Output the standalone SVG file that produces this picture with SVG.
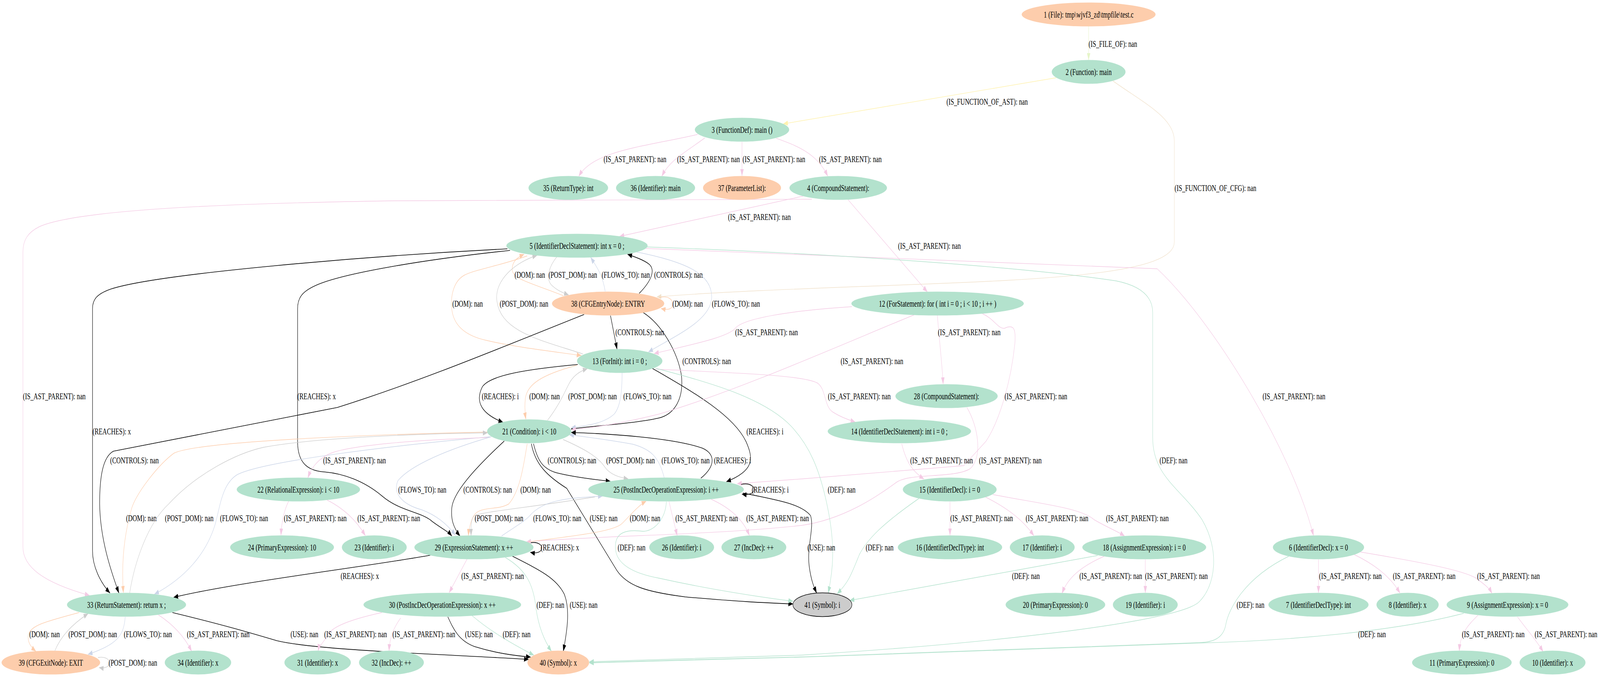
<svg xmlns="http://www.w3.org/2000/svg" width="6070" height="1733" viewBox="0 0 6070 1733" preserveAspectRatio="none" style="width:100vw;height:100vh;display:block">
<style>
text{font-family:"Liberation Serif","Times New Roman",serif;font-size:23.3px;text-anchor:middle;fill:#000}
.nd ellipse{stroke:none}
.g{fill:#b3e2cd}.o{fill:#fdcdac}.s{fill:#cccccc;stroke:#000!important;stroke-width:1.5}
#edges path{fill:none;stroke-width:1.4}
.ast{stroke:#f4cae4;marker-end:url(#m-ast)}
.def{stroke:#b3e2cd;marker-end:url(#m-def)}
.flw{stroke:#cbd5e8;marker-end:url(#m-flw)}
.dom{stroke:#fdcdac;marker-end:url(#m-dom)}
.pdm{stroke:#cccccc;marker-end:url(#m-pdm)}
#edges path.blk{stroke:#000;stroke-width:1.6;marker-end:url(#m-blk)}
.fas{stroke:#fff2ae;marker-end:url(#m-fas)}
.fcf{stroke:#f1e2cc;marker-end:url(#m-fcf)}
.fil{stroke:#e6f5c9;marker-end:url(#m-fil)}
</style>
<defs>
<marker id="m-ast" viewBox="0 0 18 13" refX="17" refY="6.5" markerWidth="18" markerHeight="13" markerUnits="userSpaceOnUse" orient="auto"><path d="M0,0L18,6.5L0,13z" fill="#f4cae4"/></marker>
<marker id="m-def" viewBox="0 0 18 13" refX="17" refY="6.5" markerWidth="18" markerHeight="13" markerUnits="userSpaceOnUse" orient="auto"><path d="M0,0L18,6.5L0,13z" fill="#b3e2cd"/></marker>
<marker id="m-flw" viewBox="0 0 18 13" refX="17" refY="6.5" markerWidth="18" markerHeight="13" markerUnits="userSpaceOnUse" orient="auto"><path d="M0,0L18,6.5L0,13z" fill="#cbd5e8"/></marker>
<marker id="m-dom" viewBox="0 0 18 13" refX="17" refY="6.5" markerWidth="18" markerHeight="13" markerUnits="userSpaceOnUse" orient="auto"><path d="M0,0L18,6.5L0,13z" fill="#fdcdac"/></marker>
<marker id="m-pdm" viewBox="0 0 18 13" refX="17" refY="6.5" markerWidth="18" markerHeight="13" markerUnits="userSpaceOnUse" orient="auto"><path d="M0,0L18,6.5L0,13z" fill="#cccccc"/></marker>
<marker id="m-blk" viewBox="0 0 18 13" refX="17" refY="6.5" markerWidth="18" markerHeight="13" markerUnits="userSpaceOnUse" orient="auto"><path d="M0,0L18,6.5L0,13z" fill="#000"/></marker>
<marker id="m-fas" viewBox="0 0 18 13" refX="17" refY="6.5" markerWidth="18" markerHeight="13" markerUnits="userSpaceOnUse" orient="auto"><path d="M0,0L18,6.5L0,13z" fill="#fff2ae"/></marker>
<marker id="m-fcf" viewBox="0 0 18 13" refX="17" refY="6.5" markerWidth="18" markerHeight="13" markerUnits="userSpaceOnUse" orient="auto"><path d="M0,0L18,6.5L0,13z" fill="#f1e2cc"/></marker>
<marker id="m-fil" viewBox="0 0 18 13" refX="17" refY="6.5" markerWidth="18" markerHeight="13" markerUnits="userSpaceOnUse" orient="auto"><path d="M0,0L18,6.5L0,13z" fill="#e6f5c9"/></marker>
</defs>
<rect width="6070" height="1733" fill="#fff"/>
<g id="edges">
<path class="fil" d="M4130,67L4130,153"/><text x="4222" y="120">(IS_FILE_OF): nan</text>
<path class="fas" d="M4007,199L2972,317"/><text x="3745" y="268">(IS_FUNCTION_OF_AST): nan</text>
<path class="fcf" d="M4222,207C4330,260 4455,300 4455,360L4455,620C4455,700 4000,715 3400,730C3000,740 2700,748 2492,760"/><text x="4611" y="489">(IS_FUNCTION_OF_CFG): nan</text>
<path class="ast" d="M2647,344C2450,375 2250,385 2196,451"/><text x="2409" y="415">(IS_AST_PARENT): nan</text>
<path class="ast" d="M2674,353C2600,390 2540,410 2511,451"/><text x="2688" y="415">(IS_AST_PARENT): nan</text>
<path class="ast" d="M2815,363L2815,450"/><text x="2936" y="415">(IS_AST_PARENT): nan</text>
<path class="ast" d="M2945,354C3010,370 3100,390 3140,451"/><text x="3226" y="415">(IS_AST_PARENT): nan</text>
<path class="ast" d="M3047,502L2351,605"/><text x="2881" y="563">(IS_AST_PARENT): nan</text>
<path class="ast" d="M3217,511L3518,747"/><text x="3526" y="637">(IS_AST_PARENT): nan</text>
<path class="ast" d="M3080,510L1500,514C900,520 300,535 150,580C105,595 87,615 87,645L87,1400C87,1450 160,1490 339,1524"/><text x="206" y="1022">(IS_AST_PARENT): nan</text>
<path class="ast" d="M2450,636L4390,688C4600,820 4900,1150 4983,1371"/><text x="4909" y="1022">(IS_AST_PARENT): nan</text>
<path class="def" d="M2450,632C3200,650 3900,685 4234,719C4330,732 4373,760 4373,800L4373,1120C4373,1220 4480,1250 4560,1330C4630,1410 4610,1500 4550,1540C4480,1590 3800,1645 3040,1677L2236,1694"/><text x="4452" y="1186">(DEF): nan</text>
<path class="dom" d="M2137,757C2020,725 1943,715 1943,690C1943,670 1960,660 1988,651"/><text x="2010" y="711">(DOM): nan</text>
<path class="pdm" d="M2112,658C2085,680 2070,710 2090,728C2110,742 2130,748 2157,755"/><text x="2173" y="711">(POST_DOM): nan</text>
<path class="flw" d="M2296,746C2285,700 2260,680 2241,659"/><text x="2374" y="711">(FLOWS_TO): nan</text>
<path class="blk" d="M2425,751C2470,720 2490,690 2460,675C2440,665 2410,658 2381,651"/><text x="2574" y="711">(CONTROLS): nan</text>
<path class="dom" d="M2000,655C1900,680 1800,690 1760,705C1710,725 1705,780 1720,810C1740,850 1800,865 1850,872C1950,888 2100,900 2205,910"/><text x="1774" y="785">(DOM): nan</text>
<path class="pdm" d="M2211,906C2050,870 1900,850 1885,770C1875,715 1960,670 2037,654"/><text x="1988" y="785">(POST_DOM): nan</text>
<path class="dom" d="M2500,762C2540,755 2552,770 2552,777C2552,790 2540,795 2508,790"/><text x="2609" y="785">(DOM): nan</text>
<path class="flw" d="M2415,645C2600,670 2700,700 2700,760C2700,820 2560,860 2460,901"/><text x="2792" y="785">(FLOWS_TO): nan</text>
<path class="blk" d="M2316,808L2341,894"/><text x="2427" y="858">(CONTROLS): nan</text>
<path class="blk" d="M2440,800C2510,830 2570,900 2585,960C2595,1020 2560,1060 2500,1070C2400,1085 2250,1090 2167,1098"/><text x="2681" y="932">(CONTROLS): nan</text>
<path class="blk" d="M1925,637C1400,655 600,700 420,740C370,752 351,765 351,790L351,1410C351,1450 380,1490 417,1518"/><text x="424" y="1112">(REACHES): x</text>
<path class="blk" d="M1935,641C1600,665 1300,700 1200,730C1150,745 1129,760 1129,790L1129,1130C1129,1180 1160,1205 1230,1208C1300,1212 1380,1230 1450,1270C1520,1310 1600,1310 1640,1335C1680,1355 1700,1360 1714,1372"/><text x="1201" y="1022">(REACHES): x</text>
<path class="blk" d="M2216,805C1900,890 1600,975 1280,1043L430,1155C390,1170 378,1220 378,1290C380,1380 420,1460 451,1518"/><text x="510" y="1186">(CONTROLS): nan</text>
<path class="blk" d="M1634,1421C1400,1450 900,1490 659,1529"/><text x="1365" y="1482">(REACHES): x</text>
<path class="blk" d="M654,1568C850,1600 950,1620 1050,1640C1200,1665 1700,1675 2005,1688"/><text x="1155" y="1631">(USE): nan</text>
<path class="dom" d="M1850,1106C1400,1112 750,1130 660,1160C600,1190 520,1260 500,1300C470,1370 460,1440 468,1517"/><text x="536" y="1334">(DOM): nan</text>
<path class="pdm" d="M492,1518C510,1440 560,1340 640,1290C750,1210 900,1160 1000,1145C1200,1120 1600,1110 1849,1108"/><text x="718" y="1334">(POST_DOM): nan</text>
<path class="flw" d="M1859,1118C1500,1140 1000,1180 900,1215C840,1240 835,1300 815,1345C780,1420 700,1480 586,1521"/><text x="926" y="1334">(FLOWS_TO): nan</text>
<path class="ast" d="M1855,1120C1600,1125 1300,1140 1240,1165C1200,1180 1180,1200 1168,1223"/><text x="1345" y="1186">(IS_AST_PARENT): nan</text>
<path class="ast" d="M1095,1283C1075,1310 1068,1340 1066,1370"/><text x="1196" y="1334">(IS_AST_PARENT): nan</text>
<path class="ast" d="M1241,1280C1300,1300 1350,1330 1386,1371"/><text x="1475" y="1334">(IS_AST_PARENT): nan</text>
<path class="dom" d="M300,1568C180,1590 116,1600 108,1625C103,1642 115,1655 136,1667"/><text x="169" y="1631">(DOM): nan</text>
<path class="pdm" d="M208,1666C230,1630 270,1600 334,1571"/><text x="352" y="1631">(POST_DOM): nan</text>
<path class="flw" d="M475,1579C470,1630 440,1650 334,1675"/><text x="561" y="1631">(FLOWS_TO): nan</text>
<path class="ast" d="M601,1574C660,1600 700,1630 727,1667"/><text x="828" y="1631">(IS_AST_PARENT): nan</text>
<path class="pdm" d="M372,1683C400,1680 415,1688 415,1696C415,1706 400,1712 376,1709"/><text x="504" y="1704">(POST_DOM): nan</text>
<path class="ast" d="M1449,1568C1300,1590 1250,1610 1240,1630C1225,1645 1210,1655 1207,1666"/><text x="1349" y="1631">(IS_AST_PARENT): nan</text>
<path class="ast" d="M1520,1582C1490,1610 1478,1635 1476,1666"/><text x="1608" y="1631">(IS_AST_PARENT): nan</text>
<path class="blk" d="M1699,1579C1720,1610 1740,1640 1800,1655C1880,1672 1950,1678 2013,1682"/><text x="1817" y="1631">(USE): nan</text>
<path class="def" d="M1791,1576C1850,1610 1920,1640 2025,1677"/><text x="1960" y="1631">(DEF): nan</text>
<path class="ast" d="M1772,1431L1704,1517"/><text x="1869" y="1482">(IS_AST_PARENT): nan</text>
<path class="def" d="M1917,1427C2000,1460 2025,1500 2034,1560C2045,1610 2070,1645 2092,1667"/><text x="2088" y="1556">(DEF): nan</text>
<path class="blk" d="M1942,1423C2050,1460 2110,1480 2140,1520C2165,1560 2150,1620 2137,1667"/><text x="2214" y="1556">(USE): nan</text>
<path class="blk" d="M2010,1390C2040,1385 2055,1395 2055,1402C2055,1412 2040,1418 2012,1414"/><text x="2124" y="1409">(REACHES): x</text>
<path class="blk" d="M2192,933C2000,945 1860,960 1830,990C1800,1030 1830,1060 1908,1081"/><text x="1898" y="1022">(REACHES): i</text>
<path class="dom" d="M2189,935C2050,960 2000,985 1993,1020C1990,1040 1992,1060 1995,1073"/><text x="2066" y="1022">(DOM): nan</text>
<path class="pdm" d="M2077,1076C2130,1030 2150,990 2165,975C2180,960 2200,950 2228,944"/><text x="2248" y="1022">(POST_DOM): nan</text>
<path class="flw" d="M2360,954C2360,1000 2355,1040 2330,1060C2290,1085 2220,1090 2167,1095"/><text x="2456" y="1022">(FLOWS_TO): nan</text>
<path class="blk" d="M2475,943C2620,1000 2780,1060 2830,1130C2860,1175 2860,1205 2756,1233"/><text x="2902" y="1112">(REACHES): i</text>
<path class="ast" d="M3232,785C3000,795 2820,815 2790,840C2760,865 2600,885 2482,905"/><text x="2908" y="858">(IS_AST_PARENT): nan</text>
<path class="ast" d="M2489,945C2800,955 3040,960 3100,980C3135,995 3125,1040 3160,1055C3190,1068 3220,1075 3244,1080"/><text x="3260" y="1022">(IS_AST_PARENT): nan</text>
<path class="ast" d="M3468,806C3200,880 2800,1000 2500,1060C2350,1085 2250,1095 2168,1100"/><text x="3308" y="932">(IS_AST_PARENT): nan</text>
<path class="ast" d="M3556,807C3565,880 3575,940 3578,983"/><text x="3677" y="858">(IS_AST_PARENT): nan</text>
<path class="ast" d="M3727,803C3770,815 3790,845 3812,840C3845,830 3855,840 3850,880C3835,980 3790,1080 3740,1130L3656,1192L3040,1226L2797,1238"/><text x="3930" y="1022">(IS_AST_PARENT): nan</text>
<path class="ast" d="M3668,1043C3710,1090 3730,1170 3680,1200C3620,1225 3450,1210 3400,1235C3330,1270 3200,1330 3040,1345C2700,1370 2300,1370 1997,1387"/><text x="3833" y="1186">(IS_AST_PARENT): nan</text>
<path class="ast" d="M3421,1136C3440,1190 3470,1210 3505,1226"/><text x="3572" y="1186">(IS_AST_PARENT): nan</text>
<path class="ast" d="M3604,1284L3604,1370"/><text x="3724" y="1334">(IS_AST_PARENT): nan</text>
<path class="ast" d="M3738,1272C3820,1300 3880,1330 3922,1371"/><text x="4010" y="1334">(IS_AST_PARENT): nan</text>
<path class="ast" d="M3767,1266C3950,1290 4100,1300 4150,1330C4200,1350 4240,1360 4266,1372"/><text x="4315" y="1334">(IS_AST_PARENT): nan</text>
<path class="def" d="M3486,1276C3350,1340 3290,1380 3260,1420C3230,1470 3220,1490 3176,1520"/><text x="3337" y="1409">(DEF): nan</text>
<path class="def" d="M4164,1422L3224,1537"/><text x="3892" y="1482">(DEF): nan</text>
<path class="ast" d="M4189,1424C4100,1450 4050,1480 4029,1519"/><text x="4214" y="1482">(IS_AST_PARENT): nan</text>
<path class="ast" d="M4345,1432L4345,1517"/><text x="4463" y="1482">(IS_AST_PARENT): nan</text>
<path class="def" d="M2489,943C2700,980 2900,1020 3000,1090C3070,1140 3110,1200 3140,1300C3170,1400 3160,1460 3142,1518"/><text x="3193" y="1261">(DEF): nan</text>
<path class="blk" d="M2024,1136C2040,1180 2060,1200 2110,1210C2180,1222 2260,1228 2315,1232"/><text x="2170" y="1186">(CONTROLS): nan</text>
<path class="blk" d="M2016,1136C2030,1190 2080,1220 2150,1250L2340,1460C2380,1500 2450,1515 2600,1528C2800,1540 2900,1543 3008,1546"/><text x="2290" y="1334">(USE): nan</text>
<path class="blk" d="M2818,1262C2950,1280 3040,1290 3075,1320C3090,1350 3060,1400 3070,1450C3078,1490 3090,1505 3098,1518"/><text x="3116" y="1409">(USE): nan</text>
<path class="blk" d="M1913,1129C1800,1200 1720,1260 1714,1300C1710,1330 1720,1350 1745,1372"/><text x="1850" y="1261">(CONTROLS): nan</text>
<path class="dom" d="M2000,1136C1985,1200 1970,1260 1930,1290C1880,1310 1810,1290 1790,1330C1780,1350 1778,1360 1777,1371"/><text x="2032" y="1261">(DOM): nan</text>
<path class="pdm" d="M2257,1272C2000,1300 1830,1310 1800,1320C1785,1330 1787,1350 1787,1371"/><text x="1893" y="1334">(POST_DOM): nan</text>
<path class="flw" d="M1903,1372C1950,1350 1990,1335 2010,1320C2060,1280 2150,1275 2286,1270"/><text x="2114" y="1334">(FLOWS_TO): nan</text>
<path class="dom" d="M2005,1387C2200,1370 2330,1360 2360,1340C2390,1320 2420,1295 2451,1283"/><text x="2447" y="1334">(DOM): nan</text>
<path class="pdm" d="M2136,1125C2220,1150 2270,1170 2295,1196C2315,1215 2350,1222 2383,1226"/><text x="2392" y="1186">(POST_DOM): nan</text>
<path class="flw" d="M2520,1223C2500,1170 2470,1150 2400,1137C2300,1125 2220,1118 2160,1113"/><text x="2601" y="1186">(FLOWS_TO): nan</text>
<path class="blk" d="M2659,1224C2720,1190 2710,1160 2664,1147C2550,1120 2300,1110 2167,1107"/><text x="2779" y="1186">(REACHES): i</text>
<path class="ast" d="M2538,1283C2550,1320 2560,1345 2569,1371"/><text x="2681" y="1334">(IS_AST_PARENT): nan</text>
<path class="ast" d="M2698,1278C2770,1300 2820,1330 2843,1371"/><text x="2950" y="1334">(IS_AST_PARENT): nan</text>
<path class="def" d="M2528,1284C2525,1330 2480,1360 2440,1360C2380,1355 2330,1360 2335,1405C2340,1450 2420,1470 2500,1480C2700,1510 2900,1530 3008,1539"/><text x="2396" y="1409">(DEF): nan</text>
<path class="flw" d="M1864,1118C1700,1150 1560,1190 1510,1230C1490,1260 1520,1290 1600,1305C1660,1320 1700,1345 1728,1370"/><text x="1602" y="1261">(FLOWS_TO): nan</text>
<path class="blk" d="M2812,1240C2845,1235 2860,1245 2860,1253C2860,1262 2845,1268 2815,1265"/><text x="2922" y="1261">(REACHES): i</text>
<path class="ast" d="M5002,1432L5002,1517"/><text x="5123" y="1482">(IS_AST_PARENT): nan</text>
<path class="ast" d="M5136,1419C5200,1440 5270,1470 5311,1518"/><text x="5403" y="1482">(IS_AST_PARENT): nan</text>
<path class="ast" d="M5161,1413C5400,1440 5550,1460 5600,1480C5630,1495 5650,1505 5660,1519"/><text x="5723" y="1482">(IS_AST_PARENT): nan</text>
<path class="def" d="M4889,1424C4720,1480 4660,1560 4650,1600C4640,1635 4600,1644 4550,1645C4000,1660 3000,1685 2236,1696"/><text x="4744" y="1556">(DEF): nan</text>
<path class="ast" d="M5607,1575C5570,1600 5540,1620 5536,1666"/><text x="5665" y="1631">(IS_AST_PARENT): nan</text>
<path class="ast" d="M5757,1579C5790,1610 5830,1640 5854,1668"/><text x="5941" y="1631">(IS_AST_PARENT): nan</text>
<path class="def" d="M5553,1570C5300,1615 4900,1640 4550,1646C4000,1660 3000,1686 2236,1697"/><text x="5205" y="1631">(DEF): nan</text>
</g>
<g id="nodes">
<g id="n1" class="nd"><ellipse class="o" cx="4130" cy="37" rx="254" ry="30.5"/><text x="4130" y="45">1 (File): tmp\wjvf3_zd\tmpfile\test.c</text></g>
<g id="n2" class="nd"><ellipse class="g" cx="4130" cy="184" rx="140" ry="30.5"/><text x="4130" y="192">2 (Function): main</text></g>
<g id="n3" class="nd"><ellipse class="g" cx="2815" cy="332" rx="179" ry="30.5"/><text x="2815" y="340">3 (FunctionDef): main ()</text></g>
<g id="n35" class="nd"><ellipse class="g" cx="2156" cy="481" rx="151" ry="30.5"/><text x="2156" y="489">35 (ReturnType): int</text></g>
<g id="n36" class="nd"><ellipse class="g" cx="2487" cy="481" rx="150" ry="30.5"/><text x="2487" y="489">36 (Identifier): main</text></g>
<g id="n37" class="nd"><ellipse class="o" cx="2815" cy="481" rx="148" ry="30.5"/><text x="2815" y="489">37 (ParameterList):</text></g>
<g id="n4" class="nd"><ellipse class="g" cx="3180" cy="481" rx="185" ry="30.5"/><text x="3180" y="489">4 (CompoundStatement):</text></g>
<g id="n5" class="nd"><ellipse class="g" cx="2189" cy="629" rx="268" ry="30.5"/><text x="2189" y="637">5 (IdentifierDeclStatement): int x = 0 ;</text></g>
<g id="n38" class="nd"><ellipse class="o" cx="2307" cy="777" rx="213" ry="30.5"/><text x="2307" y="785">38 (CFGEntryNode): ENTRY</text></g>
<g id="n12" class="nd"><ellipse class="g" cx="3557" cy="777" rx="327" ry="30.5"/><text x="3557" y="785">12 (ForStatement): for ( int i = 0 ; i &lt; 10 ; i ++ )</text></g>
<g id="n13" class="nd"><ellipse class="g" cx="2351" cy="924" rx="162" ry="30.5"/><text x="2351" y="932">13 (ForInit): int i = 0 ;</text></g>
<g id="n28" class="nd"><ellipse class="g" cx="3591" cy="1014" rx="194" ry="30.5"/><text x="3591" y="1022">28 (CompoundStatement):</text></g>
<g id="n21" class="nd"><ellipse class="g" cx="2008" cy="1104" rx="160" ry="30.5"/><text x="2008" y="1112">21 (Condition): i &lt; 10</text></g>
<g id="n14" class="nd"><ellipse class="g" cx="3412" cy="1104" rx="272" ry="30.5"/><text x="3412" y="1112">14 (IdentifierDeclStatement): int i = 0 ;</text></g>
<g id="n22" class="nd"><ellipse class="g" cx="1132" cy="1253" rx="234" ry="30.5"/><text x="1132" y="1261">22 (RelationalExpression): i &lt; 10</text></g>
<g id="n25" class="nd"><ellipse class="g" cx="2527" cy="1253" rx="295" ry="30.5"/><text x="2527" y="1261">25 (PostIncDecOperationExpression): i ++</text></g>
<g id="n15" class="nd"><ellipse class="g" cx="3603" cy="1253" rx="178" ry="30.5"/><text x="3603" y="1261">15 (IdentifierDecl): i = 0</text></g>
<g id="n24" class="nd"><ellipse class="g" cx="1070" cy="1401" rx="197" ry="30.5"/><text x="1070" y="1409">24 (PrimaryExpression): 10</text></g>
<g id="n23" class="nd"><ellipse class="g" cx="1420" cy="1401" rx="123" ry="30.5"/><text x="1420" y="1409">23 (Identifier): i</text></g>
<g id="n29" class="nd"><ellipse class="g" cx="1798" cy="1401" rx="226" ry="30.5"/><text x="1798" y="1409">29 (ExpressionStatement): x ++</text></g>
<g id="n26" class="nd"><ellipse class="g" cx="2586" cy="1401" rx="123" ry="30.5"/><text x="2586" y="1409">26 (Identifier): i</text></g>
<g id="n27" class="nd"><ellipse class="g" cx="2860" cy="1401" rx="123" ry="30.5"/><text x="2860" y="1409">27 (IncDec): ++</text></g>
<g id="n16" class="nd"><ellipse class="g" cx="3604" cy="1401" rx="198" ry="30.5"/><text x="3604" y="1409">16 (IdentifierDeclType): int</text></g>
<g id="n17" class="nd"><ellipse class="g" cx="3954" cy="1401" rx="123" ry="30.5"/><text x="3954" y="1409">17 (Identifier): i</text></g>
<g id="n18" class="nd"><ellipse class="g" cx="4341" cy="1401" rx="235" ry="30.5"/><text x="4341" y="1409">18 (AssignmentExpression): i = 0</text></g>
<g id="n6" class="nd"><ellipse class="g" cx="5002" cy="1401" rx="173" ry="30.5"/><text x="5002" y="1409">6 (IdentifierDecl): x = 0</text></g>
<g id="n33" class="nd"><ellipse class="g" cx="480" cy="1548" rx="226" ry="30.5"/><text x="480" y="1556">33 (ReturnStatement): return x ;</text></g>
<g id="n30" class="nd"><ellipse class="g" cx="1678" cy="1548" rx="299" ry="30.5"/><text x="1678" y="1556">30 (PostIncDecOperationExpression): x ++</text></g>
<g id="n41" class="nd"><ellipse class="s" cx="3120" cy="1548" rx="112" ry="30.5"/><text x="3120" y="1556">41 (Symbol): i</text></g>
<g id="n20" class="nd"><ellipse class="g" cx="4004" cy="1548" rx="189" ry="30.5"/><text x="4004" y="1556">20 (PrimaryExpression): 0</text></g>
<g id="n19" class="nd"><ellipse class="g" cx="4345" cy="1548" rx="123" ry="30.5"/><text x="4345" y="1556">19 (Identifier): i</text></g>
<g id="n7" class="nd"><ellipse class="g" cx="5002" cy="1548" rx="190" ry="30.5"/><text x="5002" y="1556">7 (IdentifierDeclType): int</text></g>
<g id="n8" class="nd"><ellipse class="g" cx="5340" cy="1548" rx="118" ry="30.5"/><text x="5340" y="1556">8 (Identifier): x</text></g>
<g id="n9" class="nd"><ellipse class="g" cx="5719" cy="1548" rx="231" ry="30.5"/><text x="5719" y="1556">9 (AssignmentExpression): x = 0</text></g>
<g id="n39" class="nd"><ellipse class="o" cx="193" cy="1696" rx="187" ry="30.5"/><text x="193" y="1704">39 (CFGExitNode): EXIT</text></g>
<g id="n34" class="nd"><ellipse class="g" cx="751" cy="1696" rx="126" ry="30.5"/><text x="751" y="1704">34 (Identifier): x</text></g>
<g id="n31" class="nd"><ellipse class="g" cx="1205" cy="1696" rx="126" ry="30.5"/><text x="1205" y="1704">31 (Identifier): x</text></g>
<g id="n32" class="nd"><ellipse class="g" cx="1485" cy="1696" rx="123" ry="30.5"/><text x="1485" y="1704">32 (IncDec): ++</text></g>
<g id="n40" class="nd"><ellipse class="o" cx="2118" cy="1696" rx="117" ry="30.5"/><text x="2118" y="1704">40 (Symbol): x</text></g>
<g id="n11" class="nd"><ellipse class="g" cx="5546" cy="1696" rx="189" ry="30.5"/><text x="5546" y="1704">11 (PrimaryExpression): 0</text></g>
<g id="n10" class="nd"><ellipse class="g" cx="5890" cy="1696" rx="125" ry="30.5"/><text x="5890" y="1704">10 (Identifier): x</text></g>
</g>
</svg>
